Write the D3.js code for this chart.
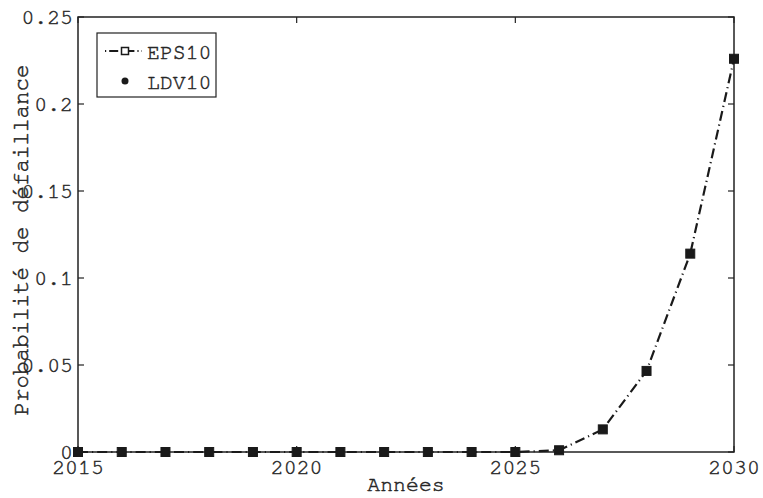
<!DOCTYPE html>
<html><head><meta charset="utf-8">
<script src="https://cdn.jsdelivr.net/npm/d3@7"></script>
<style>
body{margin:0;background:#fff;}
text{font-family:"Nimbus Mono PS","FreeMono","Courier New","Courier","Liberation Mono",monospace;fill:#262626;stroke:#262626;stroke-width:0.45px;}
</style></head>
<body><svg id="c" width="763" height="498"></svg>
<script>
const years = [2015,2016,2017,2018,2019,2020,2021,2022,2023,2024,2025,2026,2027,2028,2029,2030];
const eps10 = [0,0,0,0,0,0,0,0,0,0,0,0.001,0.013,0.0466,0.114,0.226];
const ldv10 = [0,0,0,0,0,0,0,0,0,0,0,0.001,0.013,0.0466,0.114,0.226];
const xTicks = [2015,2020,2025,2030];
const yTicks = [0,0.05,0.1,0.15,0.2,0.25];
const yTickLabels = ["0","0.05","0.1","0.15","0.2","0.25"];
const seriesNames = ["EPS10","LDV10"];

const svg = d3.select("#c");
const L=78, R=734, T=17, B=452;
const x = d3.scaleLinear().domain([2015,2030]).range([L,R]);
const y = d3.scaleLinear().domain([0,0.25]).range([B,T]);
const fs = 21.5;

svg.append("rect").attr("x",L).attr("y",T).attr("width",R-L).attr("height",B-T)
  .attr("fill","none").attr("stroke","#222").attr("stroke-width",1.5);

const tl=6;
xTicks.forEach(v=>{
  svg.append("line").attr("x1",x(v)).attr("x2",x(v)).attr("y1",B).attr("y2",B-tl).attr("stroke","#222").attr("stroke-width",1.2);
  svg.append("line").attr("x1",x(v)).attr("x2",x(v)).attr("y1",T).attr("y2",T+tl).attr("stroke","#222").attr("stroke-width",1.2);
  svg.append("text").attr("x",x(v)).attr("y",B+22).attr("text-anchor","middle").attr("font-size",fs).text(v);
});
yTicks.forEach((v,i)=>{
  svg.append("line").attr("x1",L).attr("x2",L+tl).attr("y1",y(v)).attr("y2",y(v)).attr("stroke","#222").attr("stroke-width",1.2);
  svg.append("line").attr("x1",R).attr("x2",R-tl).attr("y1",y(v)).attr("y2",y(v)).attr("stroke","#222").attr("stroke-width",1.2);
  svg.append("text").attr("x",L-5).attr("y",y(v)).attr("dy","0.32em").attr("text-anchor","end").attr("font-size",fs).text(yTickLabels[i]);
});

svg.append("text").attr("x",(L+R)/2).attr("y",491).attr("text-anchor","middle").attr("font-size",fs).text("Années");
svg.append("text").attr("transform",`translate(28,240) rotate(-90)`).attr("text-anchor","middle").attr("font-size",22.5).text("Probabilité de défaillance");

const data = years.map((yr,i)=>({yr, e:eps10[i], l:ldv10[i]}));
const line = d3.line().x(d=>x(d.yr)).y(d=>y(d.e));
svg.append("path").datum(data).attr("d",line).attr("fill","none").attr("stroke","#1a1a1a")
  .attr("stroke-width",2.2).attr("stroke-dasharray","10,4,1.2,4");

const ms=9;
svg.selectAll(".sq").data(data).enter().append("rect")
  .attr("x",d=>x(d.yr)-ms/2).attr("y",d=>y(d.e)-ms/2).attr("width",ms).attr("height",ms)
  .attr("fill","#1a1a1a").attr("stroke","#1a1a1a").attr("stroke-width",1);
svg.selectAll(".dt").data(data).enter().append("circle")
  .attr("cx",d=>x(d.yr)).attr("cy",d=>y(d.l)).attr("r",3.5).attr("fill","#1a1a1a");

const lg = svg.append("g");
lg.append("rect").attr("x",97).attr("y",33).attr("width",119).attr("height",64).attr("fill","#fff").attr("stroke","#222").attr("stroke-width",1.2);
lg.append("line").attr("x1",105).attr("x2",142).attr("y1",51).attr("y2",51).attr("stroke","#1a1a1a").attr("stroke-width",2).attr("stroke-dasharray","1.2,3,9,3");
lg.append("rect").attr("x",121.5).attr("y",47.5).attr("width",7).attr("height",7).attr("fill","#fff").attr("stroke","#1a1a1a").attr("stroke-width",1.5);
lg.append("circle").attr("cx",125).attr("cy",81).attr("r",3.5).attr("fill","#1a1a1a");
lg.append("text").attr("x",147).attr("y",51).attr("dy","0.35em").attr("font-size",fs).text(seriesNames[0]);
lg.append("text").attr("x",147).attr("y",81).attr("dy","0.35em").attr("font-size",fs).text(seriesNames[1]);
</script></body></html>
